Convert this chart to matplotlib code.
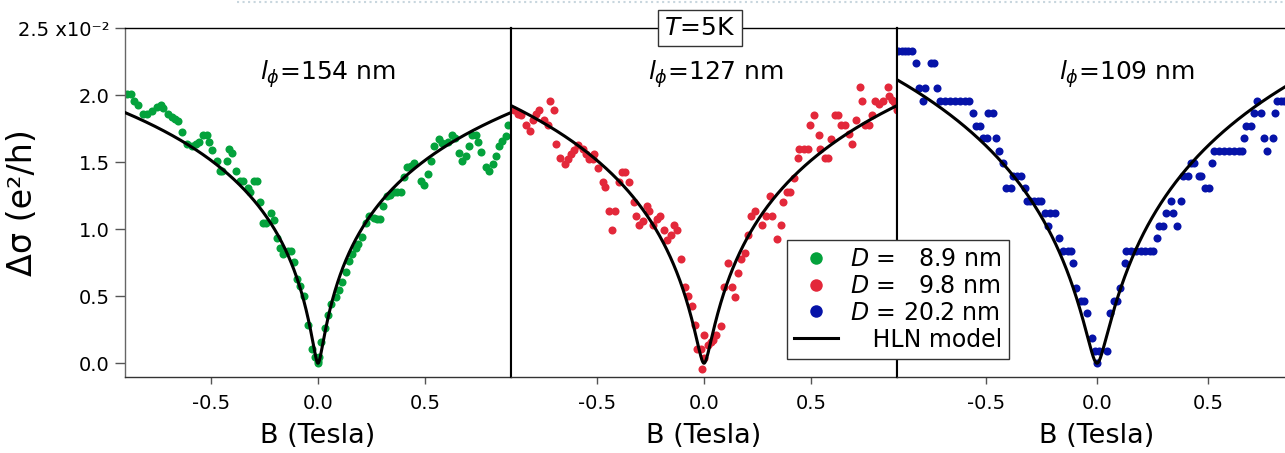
import numpy as np
import matplotlib.pyplot as plt
from matplotlib.lines import Line2D

plt.rcParams['axes.unicode_minus'] = False

# magnetoconductance, units of 1e-2 e^2/h, field in tesla
# D = 8.9 nm film
b_89 = [-0.893, -0.872, -0.857, -0.838, -0.815, -0.799, -0.776, -0.753, -0.732, -0.722,
        -0.698, -0.680, -0.667, -0.652, -0.636, -0.613, -0.589, -0.571, -0.555, -0.535,
        -0.519, -0.509, -0.493, -0.473, -0.457, -0.449, -0.426, -0.415, -0.400, -0.383,
        -0.364, -0.348, -0.328, -0.317, -0.297, -0.286, -0.271, -0.255, -0.243, -0.221,
        -0.205, -0.193, -0.177, -0.162, -0.141, -0.126, -0.110, -0.100, -0.084, -0.064,
        -0.045, -0.030, -0.014, -0.002,
        0.002, 0.005, 0.013, 0.033, 0.048, 0.059, 0.083, 0.098, 0.114, 0.129,
        0.145, 0.160, 0.176, 0.188, 0.207, 0.223, 0.238, 0.262, 0.277, 0.288,
        0.305, 0.321, 0.335, 0.355, 0.370, 0.386, 0.402, 0.417, 0.432, 0.448,
        0.479, 0.495, 0.515, 0.526, 0.541, 0.562, 0.580, 0.604, 0.624, 0.639,
        0.658, 0.670, 0.689, 0.705, 0.717, 0.736, 0.748, 0.759, 0.783, 0.798,
        0.817, 0.832, 0.845, 0.860, 0.876, 0.888]
ds_89 = [2.01, 2.01, 1.955, 1.925, 1.86, 1.86, 1.88, 1.91, 1.93, 1.905,
         1.857, 1.837, 1.825, 1.805, 1.725, 1.637, 1.625, 1.637, 1.655, 1.70,
         1.70, 1.65, 1.595, 1.512, 1.437, 1.437, 1.512, 1.60, 1.57, 1.437,
         1.362, 1.362, 1.305, 1.28, 1.362, 1.362, 1.20, 1.05, 1.05, 1.125,
         1.07, 0.937, 0.862, 0.812, 0.837, 0.837, 0.755, 0.625, 0.575, 0.50,
         0.287, 0.105, 0.05, 0.005,
         0.013, 0.05, 0.162, 0.262, 0.362, 0.445, 0.495, 0.55, 0.605, 0.68,
         0.762, 0.812, 0.862, 0.887, 0.942, 1.045, 1.10, 1.087, 1.075, 1.075,
         1.175, 1.25, 1.255, 1.275, 1.28, 1.28, 1.387, 1.462, 1.47, 1.495,
         1.362, 1.33, 1.412, 1.512, 1.625, 1.675, 1.645, 1.65, 1.705, 1.68,
         1.57, 1.512, 1.545, 1.62, 1.70, 1.705, 1.65, 1.58, 1.462, 1.437,
         1.487, 1.545, 1.62, 1.662, 1.695, 1.78]

# D = 9.8 nm film
b_98 = [-0.888, -0.869, -0.854, -0.830, -0.812, -0.799, -0.784, -0.768, -0.748, -0.729,
        -0.717, -0.701, -0.690, -0.670, -0.648, -0.636, -0.620, -0.605, -0.586, -0.566,
        -0.551, -0.535, -0.519, -0.512, -0.493, -0.473, -0.462, -0.442, -0.415, -0.431,
        -0.398, -0.384, -0.369, -0.348, -0.328, -0.317, -0.302, -0.286, -0.266, -0.255,
        -0.236, -0.221, -0.204, -0.188, -0.173, -0.154, -0.138, -0.126, -0.107, -0.089,
        -0.073, -0.058, -0.040, -0.031, -0.012, -0.009,
        0.0, 0.0, 0.020, 0.033, 0.042, 0.058, 0.079, 0.095, 0.129, 0.111,
        0.145, 0.160, 0.173, 0.191, 0.207, 0.220, 0.238, 0.269, 0.288, 0.316,
        0.308, 0.339, 0.359, 0.370, 0.386, 0.401, 0.422, 0.437, 0.443, 0.464,
        0.484, 0.495, 0.513, 0.534, 0.541, 0.562, 0.580, 0.593, 0.611, 0.627,
        0.639, 0.658, 0.677, 0.692, 0.708, 0.728, 0.739, 0.751, 0.770, 0.782,
        0.798, 0.814, 0.837, 0.857, 0.863, 0.876, 0.884, 0.898]
ds_98 = [1.887, 1.862, 1.85, 1.78, 1.737, 1.812, 1.862, 1.887, 1.812, 1.775,
         1.955, 1.887, 1.637, 1.53, 1.487, 1.525, 1.562, 1.595, 1.632, 1.60,
         1.562, 1.525, 1.525, 1.562, 1.455, 1.355, 1.312, 1.137, 1.137, 0.995,
         1.35, 1.425, 1.425, 1.35, 1.205, 1.10, 1.03, 1.062, 1.17, 1.137,
         1.03, 1.075, 1.10, 0.995, 0.92, 0.955, 1.03, 0.995, 0.78, 0.57,
         0.50, 0.425, 0.282, 0.105, 0.105, -0.04,
         0.212, 0.037, 0.137, 0.162, 0.17, 0.212, 0.28, 0.57, 0.57, 0.745,
         0.495, 0.675, 0.78, 0.82, 0.955, 1.10, 1.137, 1.03, 1.10, 1.10,
         1.245, 0.925, 1.03, 1.205, 1.28, 1.28, 1.38, 1.53, 1.60, 1.60,
         1.60, 1.78, 1.85, 1.705, 1.60, 1.53, 1.53, 1.675, 1.85, 1.85,
         1.78, 1.78, 1.712, 1.637, 1.812, 2.062, 1.955, 1.78, 1.78, 1.85,
         1.955, 1.937, 1.955, 2.062, 1.995, 1.962, 1.95, 1.887]

# D = 20.2 nm film
b_202 = [-0.894, -0.879, -0.864, -0.849, -0.834, -0.816, -0.800, -0.785, -0.774, -0.747,
         -0.733, -0.722, -0.706, -0.684, -0.661, -0.639, -0.616, -0.594, -0.574, -0.559,
         -0.544, -0.527, -0.514, -0.497, -0.492, -0.469, -0.453, -0.439, -0.421, -0.410,
         -0.388, -0.379, -0.360, -0.341, -0.324, -0.317, -0.300, -0.283, -0.266, -0.250,
         -0.236, -0.221, -0.212, -0.188, -0.172, -0.152, -0.132, -0.116, -0.106, -0.094,
         -0.074, -0.059, -0.043, -0.021, -0.007, 0.000, 0.009, 0.046, 0.057, 0.075,
         0.090, 0.102, 0.124, 0.132, 0.153, 0.175, 0.196, 0.217, 0.238, 0.253,
         0.268, 0.280, 0.296, 0.309, 0.331, 0.343, 0.361, 0.379, 0.388, 0.409,
         0.421, 0.436, 0.459, 0.470, 0.486, 0.504, 0.519, 0.527, 0.549, 0.572,
         0.594, 0.617, 0.639, 0.654, 0.662, 0.669, 0.692, 0.707, 0.722, 0.740,
         0.752, 0.767, 0.790, 0.800, 0.812, 0.827, 0.842]
ds_202 = [2.333, 2.333, 2.333, 2.333, 2.333, 2.240, 2.053, 1.960, 2.053, 2.240,
          2.240, 2.053, 1.960, 1.960, 1.960, 1.960, 1.960, 1.960, 1.960, 1.867,
          1.773, 1.773, 1.680, 1.680, 1.867, 1.867, 1.680, 1.587, 1.493, 1.307,
          1.307, 1.400, 1.400, 1.400, 1.307, 1.213, 1.213, 1.213, 1.213, 1.213,
          1.120, 1.027, 1.120, 1.120, 0.933, 0.840, 0.840, 0.840, 0.747, 0.560,
          0.467, 0.467, 0.373, 0.187, 0.093, 0.000, 0.093, 0.093, 0.373, 0.467,
          0.467, 0.560, 0.747, 0.840, 0.840, 0.840, 0.840, 0.840, 0.840, 0.840,
          0.933, 1.027, 1.027, 1.120, 1.213, 1.120, 1.027, 1.213, 1.400, 1.400,
          1.493, 1.493, 1.400, 1.400, 1.307, 1.307, 1.493, 1.587, 1.587, 1.587,
          1.587, 1.587, 1.587, 1.587, 1.680, 1.773, 1.773, 1.867, 1.960, 1.867,
          1.680, 1.587, 1.680, 1.867, 1.960, 1.960, 1.960]

thickness = ['8.9', '9.8', '20.2']
l_phi = [154, 127, 109]          # nm
alpha = [0.0200, 0.0235, 0.0291]  # HLN prefactor
colors = ['#04a23c', '#e3283a', '#0613a8']

HBAR = 1.0546e-34
E = 1.602e-19


def digamma(x):
    x = np.array(x, dtype=float)
    acc = np.zeros_like(x)
    for _ in range(8):
        acc -= 1.0 / x
        x = x + 1.0
    inv2 = 1.0 / (x * x)
    return acc + np.log(x) - 0.5 / x - inv2 * (1 / 12 - inv2 * (1 / 120 - inv2 / 252))


def hln(b, lphi_nm, a):
    b_phi = HBAR / (4 * E * (lphi_nm * 1e-9) ** 2)
    babs = np.where(b == 0, 1e-12, np.abs(b))
    r = b_phi / babs
    f = digamma(0.5 + r) - np.log(r)
    return a / np.pi * f / 1e-2


W, H = 1285, 453
fig = plt.figure(figsize=(W / 100, H / 100), dpi=100)

y_bot, y_top = 377.3, 28.3
spans = [(125, 511), (511, 897), (897, 1297)]
label_x = [0.047, 0.057, 0.135]
data = [(b_89, ds_89), (b_98, ds_98), (b_202, ds_202)]

b_fit = np.linspace(-0.9, 0.9, 1201)
axes = []
for i, (x0, x1) in enumerate(spans):
    ax = fig.add_axes([x0 / W, (H - y_bot) / H, (x1 - x0) / W, (y_bot - y_top) / H])
    axes.append(ax)
    bx, dy = data[i]
    ax.plot(bx, dy, 'o', color=colors[i], ms=5.8, mec='none', zorder=2)
    ax.plot(b_fit, hln(b_fit, l_phi[i], alpha[i]), color='black', lw=2.2, zorder=3)
    ax.set_xlim(-0.9, 0.9)
    ax.set_ylim(-0.105, 2.5)
    ax.set_xticks([-0.5, 0.0, 0.5])
    ax.set_xticklabels(['-0.5', '0.0', '0.5'])
    ax.tick_params(axis='x', direction='out', length=5, width=1, color='#555',
                   labelsize=14, pad=7)
    ax.set_xlabel('B (Tesla)', fontsize=19.5, labelpad=7)
    ax.text(label_x[i], 2.16, r'$l_{\phi}$=%d nm' % l_phi[i], fontsize=18,
            ha='center', va='center')
    ax.spines['top'].set_linewidth(1.0)
    ax.spines['bottom'].set_color('#333')
    ax.spines['bottom'].set_linewidth(1.0)
    for side in ('left', 'right'):
        ax.spines[side].set_color('black')
        ax.spines[side].set_linewidth(1.5)
    if i > 0:
        ax.tick_params(axis='y', left=False, labelleft=False)

ax1 = axes[0]
ax1.spines['left'].set_color('#666')
ax1.spines['left'].set_linewidth(1.0)
ax1.set_yticks([0.0, 0.5, 1.0, 1.5, 2.0, 2.5])
ax1.set_yticklabels(['0.0', '0.5', '1.0', '1.5', '2.0', '2.5 x10\u207b\u00b2'])
ax1.tick_params(axis='y', direction='out', length=7, width=1, color='#555',
                labelsize=14, pad=4)
ax1.set_ylabel('\u0394\u03c3 (e\u00b2/h)', fontsize=24)
ax1.yaxis.set_label_coords(-0.222, 0.5)

fig.text(700 / W, 1 - 28 / H, r'$T$=5K', fontsize=18, ha='center', va='center',
         bbox=dict(boxstyle='square,pad=0.25', fc='white', ec='#333', lw=1.0))

handles = [Line2D([], [], marker='o', ls='none', color=c, mec='none', ms=9) for c in colors]
handles.append(Line2D([], [], color='black', lw=2.2))
labels = [r'$D$ =   8.9 nm', r'$D$ =   9.8 nm', r'$D$ = 20.2 nm', '   HLN model']
fig.legend(handles, labels, loc='upper left', bbox_to_anchor=(787 / W, 1 - 240 / H),
           frameon=True, fancybox=False, edgecolor='#333', framealpha=1,
           fontsize=17, handlelength=1.85, handletextpad=0.5, labelspacing=0.12,
           borderpad=0.3, borderaxespad=0)

fig.add_artist(Line2D([237 / W, 1.0], [1 - 1.5 / H, 1 - 1.5 / H], transform=fig.transFigure,
                      ls=':', color='#c8d6de', lw=1.5))

fig.savefig('out.png', dpi=100)
